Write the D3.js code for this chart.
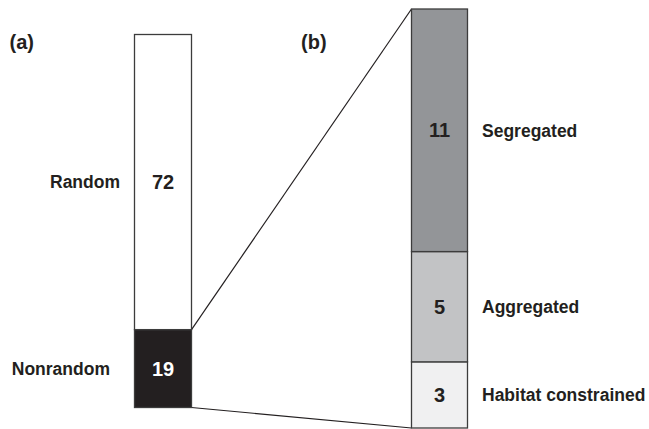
<!DOCTYPE html>
<html>
<head>
<meta charset="utf-8">
<script src="https://cdn.jsdelivr.net/npm/d3@7"></script>
<style>
  html, body { margin: 0; padding: 0; background: #fff; }
  svg { display: block; }
  text { font-family: "Liberation Sans", Arial, Helvetica, sans-serif; font-weight: bold; }
</style>
</head>
<body>
<svg id="chart" width="649" height="429"></svg>
<script>
// Panel (a): all assemblages, split into random vs nonrandom
const outcomeCategories = ["Nonrandom", "Random"];
const outcomeCounts = [19, 72];

// Panel (b): breakdown of the nonrandom assemblages
const patternCategories = ["Habitat constrained", "Aggregated", "Segregated"];
const patternCounts = [3, 5, 11];

const svg = d3.select("#chart");
const ink = "#231f20";

// Stack a list of counts bottom-up into [start, end] pairs
function stackCounts(categories, counts) {
  let acc = 0;
  return categories.map((c, i) => {
    const d = { label: c, value: counts[i], y0: acc, y1: acc + counts[i] };
    acc += counts[i];
    return d;
  });
}

const stackA = stackCounts(outcomeCategories, outcomeCounts);
const stackB = stackCounts(patternCategories, patternCounts);

const totalA = d3.sum(outcomeCounts);
const totalB = d3.sum(patternCounts);

const yA = d3.scaleLinear().domain([0, totalA]).range([407.5, 34.5]);
const yB = d3.scaleLinear().domain([0, totalB]).range([428, 9]);

const barA = { x: 134.5, w: 57 };
const barB = { x: 411.5, w: 56 };

const fillA = { "Random": "#ffffff", "Nonrandom": "#231f20" };
const fillB = { "Segregated": "#939598", "Aggregated": "#c2c3c5", "Habitat constrained": "#f0f0f1" };

// Connector lines from the nonrandom block to the expanded bar
const nonrandom = stackA.find(d => d.label === "Nonrandom");
svg.append("line")
  .attr("x1", barA.x + barA.w).attr("y1", yA(nonrandom.y1))
  .attr("x2", barB.x).attr("y2", yB(totalB))
  .attr("stroke", ink).attr("stroke-width", 1.2);
svg.append("line")
  .attr("x1", barA.x + barA.w).attr("y1", yA(nonrandom.y0))
  .attr("x2", barB.x).attr("y2", yB(0))
  .attr("stroke", ink).attr("stroke-width", 1.2);

// Bar (a)
const gA = svg.append("g");
gA.selectAll("rect").data(stackA).join("rect")
  .attr("x", barA.x)
  .attr("y", d => yA(d.y1))
  .attr("width", barA.w)
  .attr("height", d => yA(d.y0) - yA(d.y1))
  .attr("fill", d => fillA[d.label])
  .attr("stroke", "#3c3c3c").attr("stroke-width", 1.3);

gA.selectAll("text.num").data(stackA).join("text")
  .attr("class", "num")
  .attr("x", barA.x + barA.w / 2)
  .attr("y", d => yA((d.y0 + d.y1) / 2))
  .attr("dy", "0.36em")
  .attr("text-anchor", "middle")
  .attr("font-size", 20)
  .attr("fill", d => d.label === "Nonrandom" ? "#ffffff" : ink)
  .text(d => d.value);

gA.selectAll("text.lab").data(stackA).join("text")
  .attr("class", "lab")
  .attr("x", d => d.label === "Random" ? 120 : 110)
  .attr("y", d => yA((d.y0 + d.y1) / 2))
  .attr("dy", "0.36em")
  .attr("text-anchor", "end")
  .attr("font-size", 17.5)
  .attr("fill", ink)
  .text(d => d.label);

// Bar (b)
const gB = svg.append("g");
gB.selectAll("rect").data(stackB).join("rect")
  .attr("x", barB.x)
  .attr("y", d => yB(d.y1))
  .attr("width", barB.w)
  .attr("height", d => yB(d.y0) - yB(d.y1))
  .attr("fill", d => fillB[d.label])
  .attr("stroke", "#3c3c3c").attr("stroke-width", 1.3);

gB.selectAll("text.num").data(stackB).join("text")
  .attr("class", "num")
  .attr("x", barB.x + barB.w / 2)
  .attr("y", d => yB((d.y0 + d.y1) / 2))
  .attr("dy", "0.36em")
  .attr("text-anchor", "middle")
  .attr("font-size", 20)
  .attr("fill", ink)
  .text(d => d.value);

gB.selectAll("text.lab").data(stackB).join("text")
  .attr("class", "lab")
  .attr("x", 482)
  .attr("y", d => yB((d.y0 + d.y1) / 2))
  .attr("dy", "0.36em")
  .attr("text-anchor", "start")
  .attr("font-size", 17.5)
  .attr("fill", ink)
  .text(d => d.label);

// Panel letters
svg.append("text").attr("x", 9.5).attr("y", 49).attr("font-size", 20).attr("fill", ink).text("(a)");
svg.append("text").attr("x", 301).attr("y", 49).attr("font-size", 20).attr("fill", ink).text("(b)");
</script>
</body>
</html>
